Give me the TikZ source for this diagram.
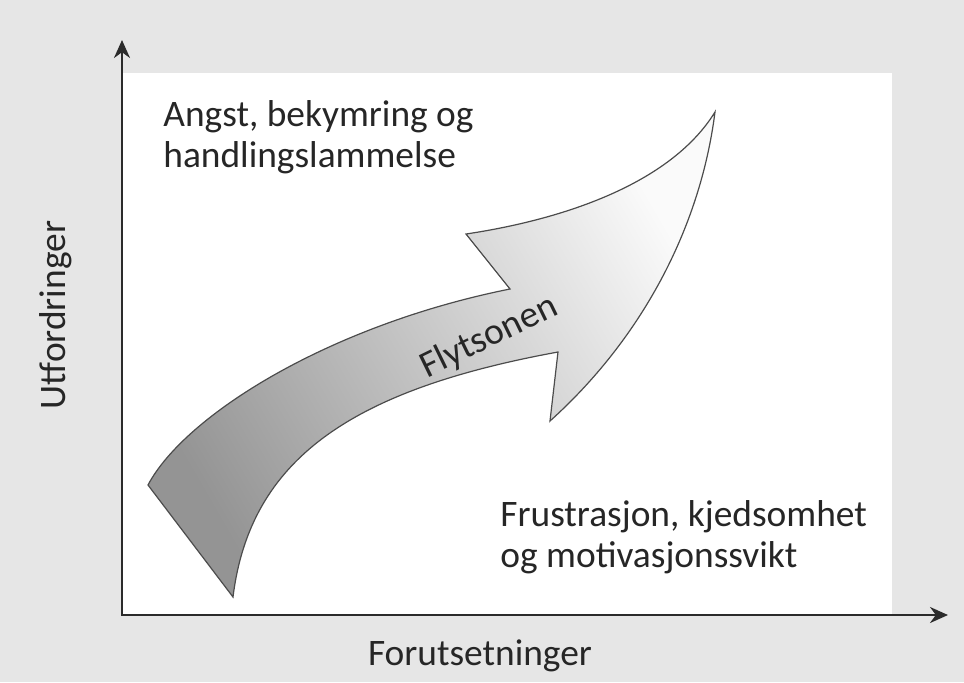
\documentclass[tikz,border=0pt]{standalone}
\usepackage{fontspec}
\setmainfont{Carlito}
\usetikzlibrary{arrows.meta}

\definecolor{bggray}{HTML}{E6E6E6}
\definecolor{axisgray}{HTML}{2B2B2B}

\begin{document}
\begin{tikzpicture}[x=0.5pt,y=-0.5pt,
    font=\fontsize{18.7}{20.5}\selectfont,
    axis/.style={draw=axisgray, line width=1.3pt, {Stealth[length=9pt,width=8pt]}-{Stealth[length=9pt,width=8pt]}},
    flow/.style={draw=black!70, line width=0.6pt, left color=black!42, right color=black!2, shading angle=120}]

        \useasboundingbox (0,0) rectangle (964,682);
        \fill[bggray] (0,0) rectangle (964,682);
        \fill[white] (122,73) rectangle (892,615);

        % axes
        \coordinate (origin) at (122,615);
        \coordinate (ymax)   at (122,40);
        \coordinate (xmax)   at (948,615);
        \draw[axis] (ymax) -- (origin) -- (xmax);

        % the arrow
        \coordinate (tailL)  at (148,485);
        \coordinate (tailB)  at (233,597);
        \coordinate (innerU) at (510,289);
        \coordinate (barbU)  at (466,234);
        \coordinate (tip)    at (715,112);
        \coordinate (barbL)  at (550,421);
        \coordinate (innerL) at (558,352);
        \draw[flow] (tailL) .. controls (185,415) and (330,325) .. (innerU)
          -- (barbU) .. controls (560,220) and (670,185) .. (tip)
          .. controls (700,230) and (640,340) .. (barbL)
          -- (innerL) .. controls (350,390) and (250,460) .. (tailB) -- cycle;

        \begin{scope}[every node/.style={inner sep=0pt, text=black!85}]
          \node[anchor=base west, align=left] (angst) at (163,167) {Angst, bekymring og\\handlingslammelse};
          \node[anchor=base west, align=left] (frust) at (500,567) {Frustrasjon, kjedsomhet\\og motivasjonssvikt};
          \node[anchor=base, rotate=90] (ylabel) at (65,315) {Utfordringer};
          \node[anchor=base] (xlabel) at (480,665) {Forutsetninger};
          \node[rotate=26] (flyt) at (489,337) {Flytsonen};
        \end{scope}

      \end{tikzpicture}
\end{document}
